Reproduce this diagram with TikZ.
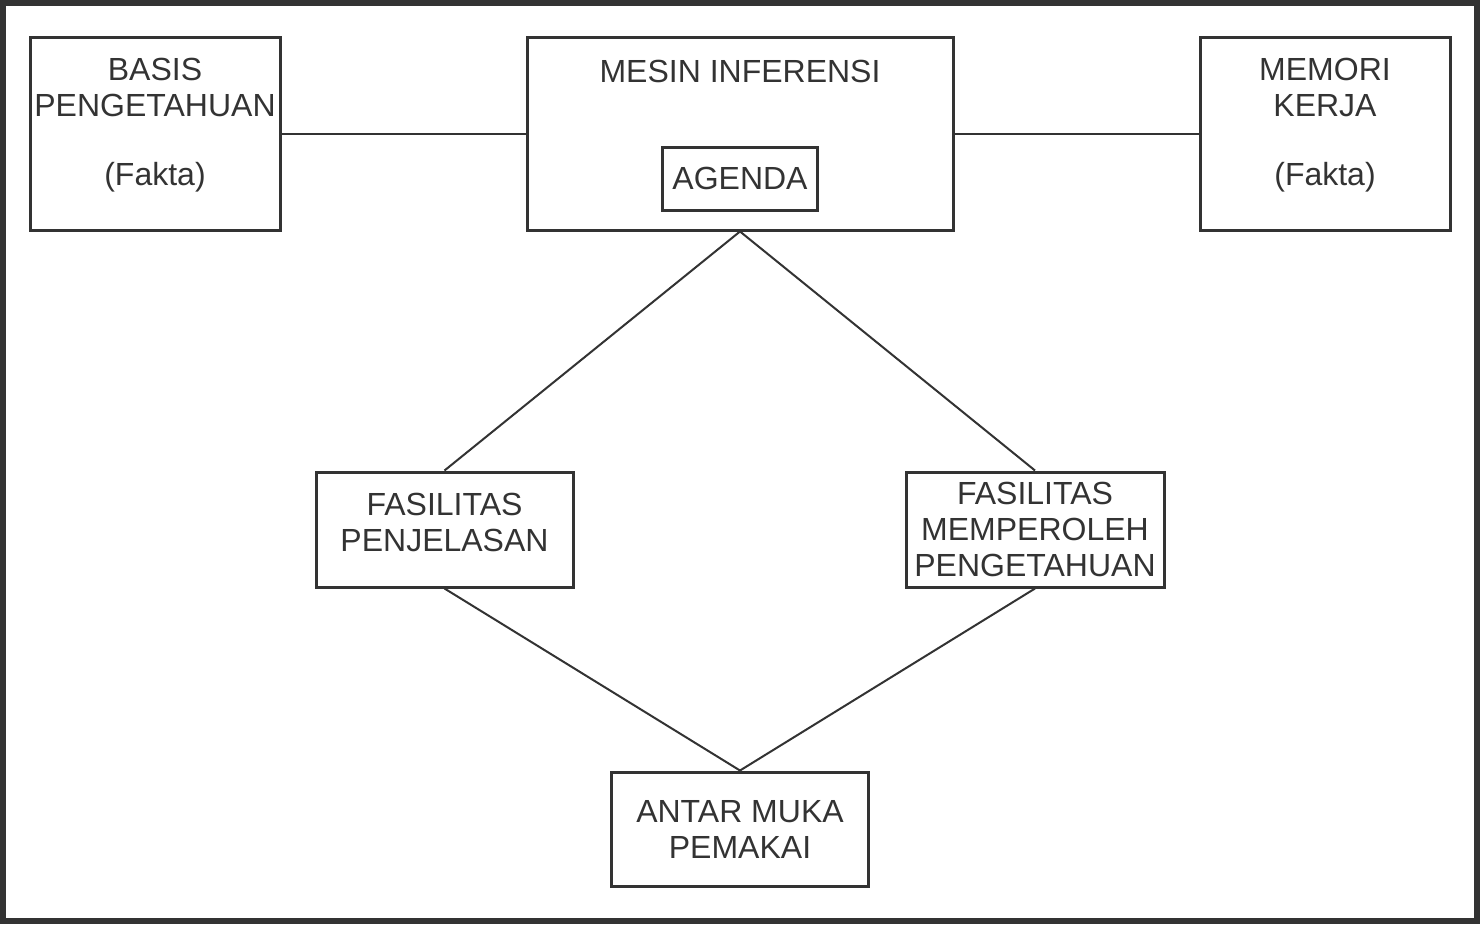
\documentclass[tikz,border=0pt]{standalone}
\usepackage{fontspec}
\setmainfont{Liberation Sans}
\usetikzlibrary{positioning}
\definecolor{ink}{HTML}{333333}

\tikzset{
  box/.style = {draw=ink, line width=3pt, text=ink, align=center, inner sep=0pt},
  txt/.style = {text=ink, align=center, inner sep=0pt},
  link/.style = {draw=ink, line width=2pt},
}

\begin{document}
\begin{tikzpicture} [x=1pt, y=-1pt, node distance = 585pt, on grid, font=\fontsize{32}{36}\selectfont]
        \useasboundingbox (0,0) rectangle (1480,924);
        \draw [ink, line width=6pt] (3,3) rectangle (1477,921);

        \node (mesin)
        [box, minimum width=426pt, minimum height=193pt] at (740,133.5) {};
        \node (mesintitle)
        [txt, below = 24pt of mesin.north] {MESIN INFERENSI};
        \node (agenda)
        [box, minimum width=155pt, minimum height=63pt, below = 45pt of mesin] {AGENDA};

        \node (basis)
        [box, minimum width=250pt, minimum height=193pt, left = of mesin] {};
        \node (basistext)
        [txt, above = 8pt of basis] {BASIS\\PENGETAHUAN\\[33pt](Fakta)};
        \node (memori)
        [box, minimum width=250pt, minimum height=193pt, right = of mesin] {};
        \node (memoritext)
        [txt, above = 8pt of memori] {MEMORI\\KERJA\\[33pt](Fakta)};

        \node (fp)
        [box, minimum width=257pt, minimum height=115pt, below left = 396pt and 295.5pt of mesin] {};
        \node (fptext)
        [txt, above = 7pt of fp] {FASILITAS\\PENJELASAN};
        \node (fm)
        [box, minimum width=258pt, minimum height=115pt, below right = 396pt and 295pt of mesin]
        {FASILITAS\\MEMPEROLEH\\PENGETAHUAN};
        \node (am)
        [box, minimum width=257pt, minimum height=114pt, below = 695.5pt of mesin]
        {ANTAR MUKA\\PEMAKAI};

        \path [link]
        (basis) edge (mesin)
        (mesin) edge (memori)
        (mesin.south) edge (fp.north)
        (mesin.south) edge (fm.north)
        (fp.south) edge (am.north)
        (fm.south) edge (am.north)
        ;
    \end{tikzpicture}
\end{document}
